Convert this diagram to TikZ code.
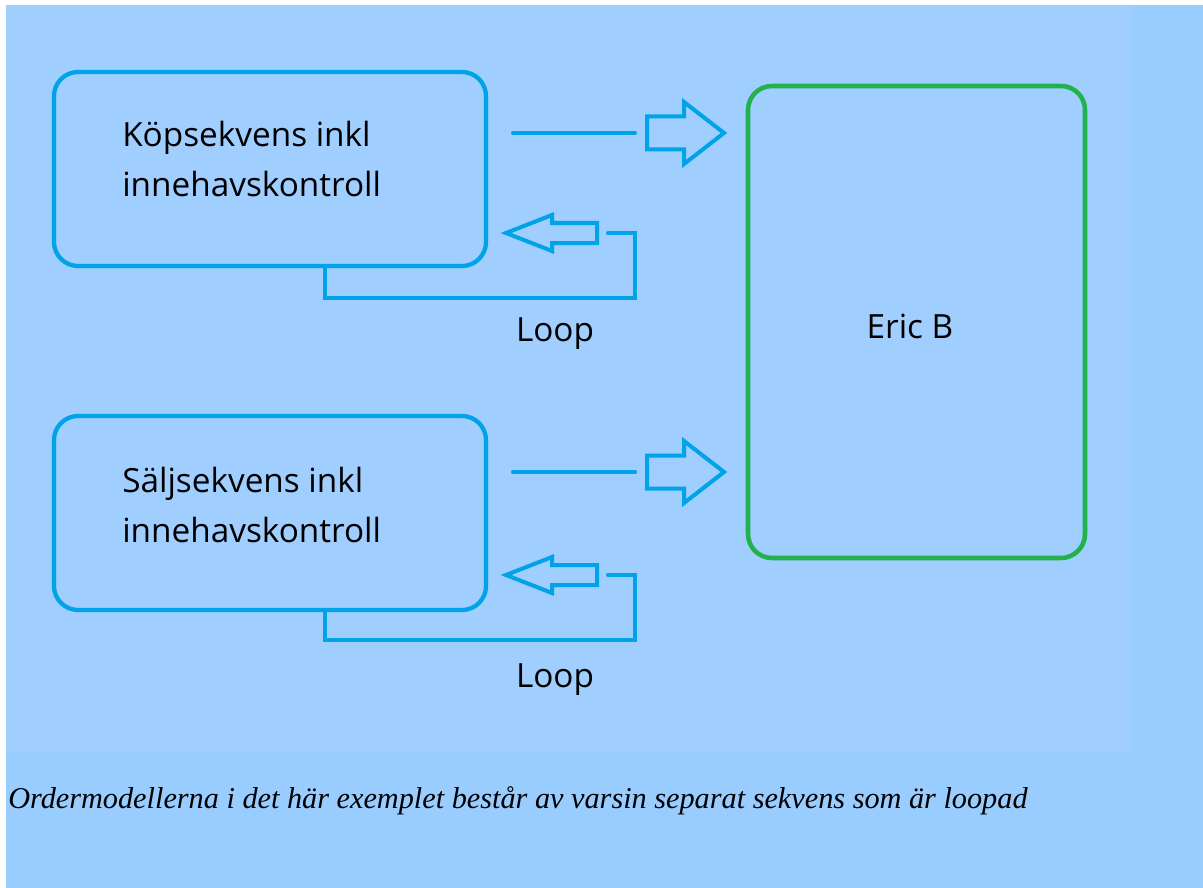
\documentclass[tikz,border=0pt]{standalone}
\usepackage{fontspec}
\setmainfont{Liberation Serif}
\newfontfamily\diagfont{Open Sans}
\usetikzlibrary{positioning}

\definecolor{skyback}{HTML}{99CCFF}
\definecolor{skyinner}{HTML}{9FCEFF}
\definecolor{paintblue}{HTML}{00A2E8}
\definecolor{paintgreen}{HTML}{22B14C}

\tikzset{
  seqbox/.style={draw=paintblue,line width=3.2pt,rounded corners=18pt,
    minimum width=324pt,minimum height=145.5pt},
  seqtext/.style={anchor=base west,inner sep=0pt,align=left,
    font=\diagfont\fontsize{25}{37.5}\selectfont},
  targetbox/.style={draw=paintgreen,line width=3.4pt,rounded corners=18pt,
    minimum width=252.75pt,minimum height=354pt},
  flowline/.style={draw=paintblue,line width=3pt,line cap=round},
  fatarrow/.style={draw=paintblue,line width=3pt,line join=miter},
  looplabel/.style={font=\diagfont\fontsize{25}{30}\selectfont,inner sep=0pt,
    anchor=base}
}

\begin{document}
\begin{tikzpicture}[x=0.75pt,y=-0.75pt]
\useasboundingbox (0,0) rectangle (1203,888);
% ---------------- background ----------------
\fill[white] (0,0) rectangle (1203,888);
\fill[skyback] (6,5) rectangle (1203,888);
\fill[skyinner] (6,5) rectangle (1132,751);

% ---------------- boxes ----------------
\node[seqbox] (kop) at (270,169) {};
\node[seqtext] (koptext) at (122,197) {Köpsekvens inkl\\innehavskontroll};
\node[seqbox] (salj) at (270,513) {};
\node[seqtext] (saljtext) at (122,542) {Säljsekvens inkl\\innehavskontroll};
\node[targetbox] (eric) at (916.5,322) {};
\node[looplabel] (erictext) at (910,338) {Eric B};

% ---------------- buy sequence ----------------
\coordinate (kopout) at (513,133);
\coordinate (kopoutend) at (635,133);
\draw[flowline] (kopout) -- (kopoutend);
\draw[fatarrow] (647,116.5) -- (684,116.5) -- (684,102) -- (724,133)
  -- (684,164) -- (684,149.5) -- (647,149.5) -- cycle;
\coordinate (kopret) at (608,233);
\draw[flowline] ([xshift=41.25pt]kop.south) |- (635,298) |- (kopret);
\draw[fatarrow] (506,233) -- (552,215) -- (552,223) -- (597,223)
  -- (597,243) -- (552,243) -- (552,251) -- cycle;
\node[looplabel] (koploop) at (555,341) {Loop};

% ---------------- sell sequence ----------------
\coordinate (saljout) at (513,472);
\coordinate (saljoutend) at (635,472);
\draw[flowline] (saljout) -- (saljoutend);
\draw[fatarrow] (647,455.5) -- (684,455.5) -- (684,441) -- (724,472)
  -- (684,503) -- (684,488.5) -- (647,488.5) -- cycle;
\coordinate (saljret) at (608,575);
\draw[flowline] ([xshift=41.25pt]salj.south) |- (635,640) |- (saljret);
\draw[fatarrow] (506,575) -- (552,557) -- (552,565) -- (597,565)
  -- (597,585) -- (552,585) -- (552,593) -- cycle;
\node[looplabel] (saljloop) at (555,687) {Loop};

% ---------------- caption ----------------
\node[anchor=base west,inner sep=0pt,font=\itshape\fontsize{22.7}{27}\selectfont]
  (caption) at (8,808)
  {Ordermodellerna i det här exemplet består av varsin separat sekvens som är loopad};
\end{tikzpicture}
\end{document}
